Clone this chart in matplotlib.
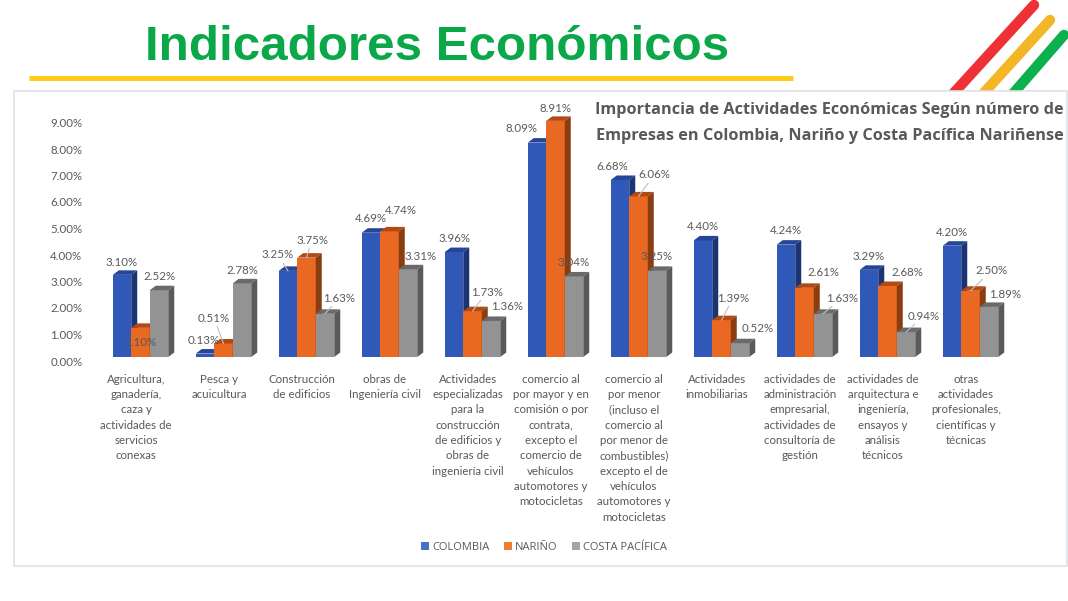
import numpy as np
import matplotlib
matplotlib.use('Agg')
import matplotlib.pyplot as plt
from matplotlib.patches import Patch, Polygon, Rectangle
from matplotlib.transforms import ScaledTranslation

plt.rcParams['font.family'] = ['Lato', 'DejaVu Sans']

# data
categories = [
    'Agricultura,\nganadería,\ncaza y\nactividades de\nservicios\nconexas',
    'Pesca y\nacuicultura',
    'Construcción\nde edificios',
    'obras de\nIngeniería civil',
    'Actividades\nespecializadas\npara la\nconstrucción\nde edificios y\nobras de\ningeniería civil',
    'comercio al\npor mayor y en\ncomisión o por\ncontrata,\nexcepto el\ncomercio de\nvehículos\nautomotores y\nmotocicletas',
    'comercio al\npor menor\n(incluso el\ncomercio al\npor menor de\ncombustibles)\nexcepto el de\nvehículos\nautomotores y\nmotocicletas',
    'Actividades\ninmobiliarias',
    'actividades de\nadministración\nempresarial,\nactividades de\nconsultoría de\ngestión',
    'actividades de\narquitectura e\ningeniería,\nensayos y\nanálisis\ntécnicos',
    'otras\nactividades\nprofesionales,\ncientíficas y\ntécnicas',
]
colombia = [3.10, 0.13, 3.25, 4.69, 3.96, 8.09, 6.68, 4.40, 4.24, 3.29, 4.20]
narino = [1.10, 0.51, 3.75, 4.74, 1.73, 8.91, 6.06, 1.39, 2.61, 2.68, 2.50]
costa = [2.52, 2.78, 1.63, 3.31, 1.36, 3.04, 3.25, 0.52, 1.63, 0.94, 1.89]
series_names = ['COLOMBIA', 'NARIÑO', 'COSTA PACÍFICA']
y_ticks = [0, 1, 2, 3, 4, 5, 6, 7, 8, 9]

# where the data labels sit on the slide, in pixels
colombia_pos = [(122, 262), (204, 340), (278, 255), (371, 218), (454, 238), (522, 129),
                (612, 167), (703, 227), (786, 231), (869, 257), (952, 232)]
narino_pos = [(140, 342), (214, 318), (312, 240), (401, 210), (487, 292), (555, 108),
              (654, 175), (733, 298), (823, 273), (907, 273), (991, 271)]
costa_pos = [(159, 277), (242, 270), (339, 298), (421, 256), (507, 307), (574, 263),
             (657, 257), (758, 328), (842, 298), (924, 316), (1005, 294)]
# (series, group) labels with a leader line
leaders = [(1, 1), (0, 2), (1, 2), (2, 2), (1, 4), (1, 6), (1, 7), (2, 8), (2, 9), (1, 10)]

front = ['#2F58B8', '#E96822', '#939393']
top = ['#254596', '#B34A14', '#6A6A6A']
side = ['#1B3474', '#8A3D10', '#5A5A5A']
legend_colors = ['#4472C4', '#ED7D31', '#A5A5A5']
text_color = '#595959'

fig = plt.figure(figsize=(10.68, 6.01), dpi=100)

# slide background, pixel coordinates
bg = fig.add_axes([0, 0, 1, 1])
bg.set_xlim(0, 1068)
bg.set_ylim(601, 0)
bg.axis('off')

stripes = [((951, 96), (1034, 5), '#EE3135'), ((981, 96), (1050, 20), '#F4B526'), ((1011, 96), (1064, 35), '#0DB04F')]
for a, b, c in stripes:
    bg.plot([a[0], b[0]], [a[1], b[1]], color=c, lw=7.5, solid_capstyle='round', zorder=1)
bg.add_patch(Rectangle((14, 91), 1053, 475, facecolor='white', edgecolor='#DDE3E8', lw=1.2, zorder=2))
bg.plot([29, 793], [78, 78], color='#FFCB16', lw=3.6, solid_capstyle='butt', zorder=3)
bg.text(437, 47.5, 'Indicadores Económicos', color='#0BA84A', fontsize=35.6, fontweight='bold',
        family='Liberation Sans', ha='center', va='center', zorder=3)
for yy, line in [(110, 'Importancia de Actividades Económicas Según número de'),
                 (136.5, 'Empresas en Colombia, Nariño y Costa Pacífica Nariñense')]:
    bg.text(829.5, yy, line, color='#595959', fontsize=11.7, fontweight='bold', family='Open Sans',
            ha='center', va='center', zorder=3)

# chart area: base of the bars at y=357, 26.5 px per percent, 83 px per group
ax = fig.add_axes([99 / 1068, (601 - 357) / 601, 913 / 1068, 262.35 / 601])
ax.set_xlim(-0.5, 10.5)
ax.set_ylim(0, 9.9)
ax.patch.set_alpha(0)
for s in ax.spines.values():
    s.set_visible(False)

bar_w = 18.5 / 83
dx = 6 / 83
dy = 4.5 / 26.5
x = np.arange(len(categories))
series = [colombia, narino, costa]
positions = [colombia_pos, narino_pos, costa_pos]

for k, values in enumerate(series):
    xs = x + (k - 1) * bar_w
    ax.bar(xs, values, width=bar_w, color=front[k], zorder=3 + k, linewidth=0)
    for xc, v in zip(xs, values):
        l = xc - bar_w / 2
        r = xc + bar_w / 2
        ax.add_patch(Polygon([(l, v), (r, v), (r + dx, v + dy), (l + dx, v + dy)],
                             closed=True, facecolor=top[k], edgecolor='none', zorder=3 + k, clip_on=False))
        ax.add_patch(Polygon([(r, 0), (r + dx, dy), (r + dx, v + dy), (r, v)],
                             closed=True, facecolor=side[k], edgecolor='none', zorder=3 + k, clip_on=False))
    for i, v in enumerate(values):
        props = None
        if (k, i) in leaders:
            props = dict(arrowstyle='-', color='#BFBFBF', lw=0.8, shrinkA=0, shrinkB=0)
        ax.annotate('%.2f%%' % v, xy=(xs[i], v), xytext=positions[k][i], textcoords=bg.transData,
                    ha='center', va='center', fontsize=8.3, color=text_color, zorder=10,
                    arrowprops=props, annotation_clip=False)

ax.set_yticks(y_ticks, ['%.2f%%' % t for t in y_ticks])
ax.set_xticks(x, categories)
ax.tick_params(axis='both', length=0, labelsize=8.3, labelcolor=text_color)
ax.tick_params(axis='y', pad=12)
ax.tick_params(axis='x', pad=12)
# the 3D floor sits a little away from the tick labels
y_shift = ScaledTranslation(0, -4 / 100, fig.dpi_scale_trans)
x_shift = ScaledTranslation(-4.5 / 100, 0, fig.dpi_scale_trans)
for lab in ax.get_yticklabels():
    lab.set_transform(lab.get_transform() + y_shift)
for lab in ax.get_xticklabels():
    lab.set_transform(lab.get_transform() + x_shift)
    lab.set_linespacing(1.48)

handles = [Patch(facecolor=c, edgecolor='none', label=n) for c, n in zip(legend_colors, series_names)]
fig.legend(handles=handles, loc='center', bbox_to_anchor=(544 / 1068, (601 - 547.5) / 601), ncol=3, frameon=False,
           prop={'family': 'Open Sans', 'size': 8}, labelcolor=text_color, handlelength=0.7, handleheight=0.7,
           handletextpad=0.3, columnspacing=1.3)

fig.savefig('out.png', dpi=100)
